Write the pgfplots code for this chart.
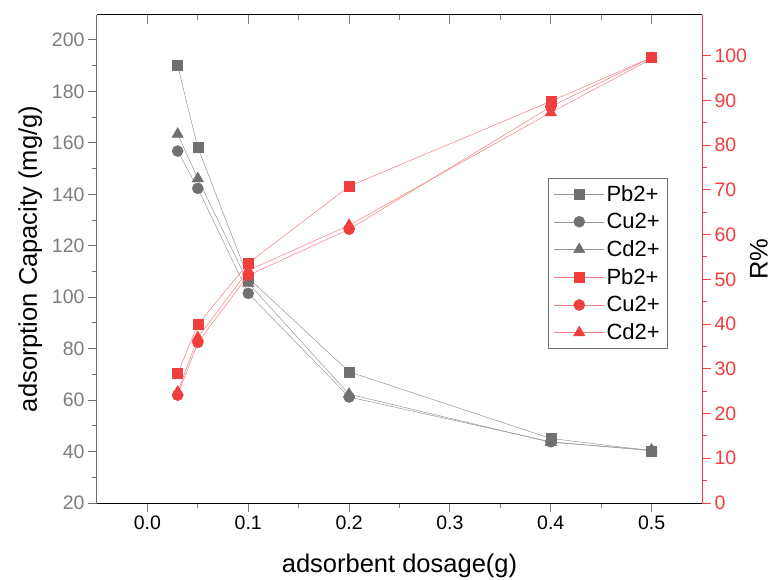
\documentclass[border=0pt]{standalone}
\usepackage{fontspec}
\setmainfont{Liberation Sans}
\usepackage{pgfplots}
\pgfplotsset{compat=1.18}
\definecolor{mgray}{RGB}{112,112,112}
\definecolor{tgray}{RGB}{125,125,125}
\definecolor{lgray}{RGB}{150,150,150}
\definecolor{mred}{RGB}{240,62,62}
\definecolor{lred}{RGB}{246,125,125}
\begin{document}
\begin{tikzpicture}
\pgfplotsset{
  every axis/.append style={
    scale only axis, width=605pt, height=488pt,
    xmin=-0.05, xmax=0.55,
    major tick length=9pt, minor tick length=5pt,
    tick label style={font=\fontsize{19.5}{20}\selectfont},
    label style={font=\fontsize{25.5}{27}\selectfont},
    /pgf/number format/assume math mode=true,
    axis line style={line width=1pt},
    tick style={line width=1pt},
  },
  gS/.style={color=lgray, line width=0.5pt, mark=square*, mark size=5pt, mark options={draw=mgray, fill=mgray, solid}},
  gC/.style={color=lgray, line width=0.5pt, mark=*, mark size=5.5pt, mark options={draw=mgray, fill=mgray, solid}},
  gT/.style={color=lgray, line width=0.5pt, mark=triangle*, mark size=6.5pt, mark options={draw=mgray, fill=mgray, solid}},
  rS/.style={color=lred, line width=0.5pt, mark=square*, mark size=5pt, mark options={draw=mred, fill=mred, solid}},
  rC/.style={color=lred, line width=0.5pt, mark=*, mark size=5.5pt, mark options={draw=mred, fill=mred, solid}},
  rT/.style={color=lred, line width=0.5pt, mark=triangle*, mark size=6.5pt, mark options={draw=mred, fill=mred, solid}},
}
% bottom x axis
\begin{axis}[
  axis x line*=bottom, axis y line=none,
  ymin=0, ymax=1,
  tick align=outside,
  xtick={0,0.1,0.2,0.3,0.4,0.5}, minor x tick num=1,
  xticklabels={0.0,0.1,0.2,0.3,0.4,0.5},
  xlabel={adsorbent dosage(g)},
  xlabel style={yshift=-18pt},
]
\coordinate (O) at (rel axis cs:0,0);
\end{axis}
% top x axis
\begin{axis}[
  axis x line*=top, axis y line=none,
  ymin=0, ymax=1,
  tick align=inside,
  xtick={0,0.1,0.2,0.3,0.4,0.5}, minor x tick num=1,
  xticklabels={},
]
\end{axis}
% left y axis (gray)
\begin{axis}[
  axis x line=none, axis y line*=left,
  ymin=20, ymax=209.7,
  tick align=outside,
  ytick={20,40,...,200}, minor y tick num=1,
  y axis line style={mgray}, tick style={mgray},
  yticklabel style={text=tgray},
  ylabel={adsorption Capacity (mg/g)},
  ylabel style={yshift=3pt},
]
\addplot[gS] coordinates {(0.03,190.0) (0.05,158.2) (0.1,107.5) (0.2,71.0) (0.4,45.1) (0.5,40.3)};
\addplot[gC] coordinates {(0.03,156.8) (0.05,142.3) (0.1,101.5) (0.2,61.2) (0.4,43.8) (0.5,40.3)};
\addplot[gT] coordinates {(0.03,163.4) (0.05,146.1) (0.1,105.5) (0.2,62.3) (0.4,43.6) (0.5,40.6)};
\end{axis}
% right y axis (red)
\begin{axis}[
  axis x line=none, axis y line*=right,
  ymin=0, ymax=109.1,
  tick align=outside,
  ytick={0,10,...,100}, minor y tick num=1,
  y axis line style={mred}, tick style={mred},
  yticklabel style={text=mred},
  ylabel={R\%},
  ylabel style={yshift=4pt},
  legend style={at={(0.944,0.666)}, anchor=north east, draw=mgray, line width=0.8pt, fill=white,
    font=\fontsize{22}{24}\selectfont, row sep=6.5pt, inner xsep=6pt, inner ysep=5pt},
  legend cell align=left,
  legend image code/.code={\draw[#1] plot coordinates {(0pt,0pt) (25pt,0pt) (50pt,0pt)};},
  legend image post style={mark repeat=2, mark phase=2},
]
\addlegendimage{gS}
\addlegendentry{Pb2+}
\addlegendimage{gC}
\addlegendentry{Cu2+}
\addlegendimage{gT}
\addlegendentry{Cd2+}
\addplot[rS] coordinates {(0.03,29.0) (0.05,39.9) (0.1,53.6) (0.2,70.8) (0.4,89.8) (0.5,99.6)};
\addlegendentry{Pb2+}
\addplot[rC] coordinates {(0.03,24.1) (0.05,35.9) (0.1,50.9) (0.2,61.2) (0.4,88.6) (0.5,99.6)};
\addlegendentry{Cu2+}
\addplot[rT] coordinates {(0.03,24.8) (0.05,37.0) (0.1,52.0) (0.2,62.1) (0.4,87.3) (0.5,99.3)};
\addlegendentry{Cd2+}
\end{axis}
\pgfresetboundingbox
\path (O) ++(-97pt,-76pt) rectangle ++(783pt,579pt);
\end{tikzpicture}
\end{document}
